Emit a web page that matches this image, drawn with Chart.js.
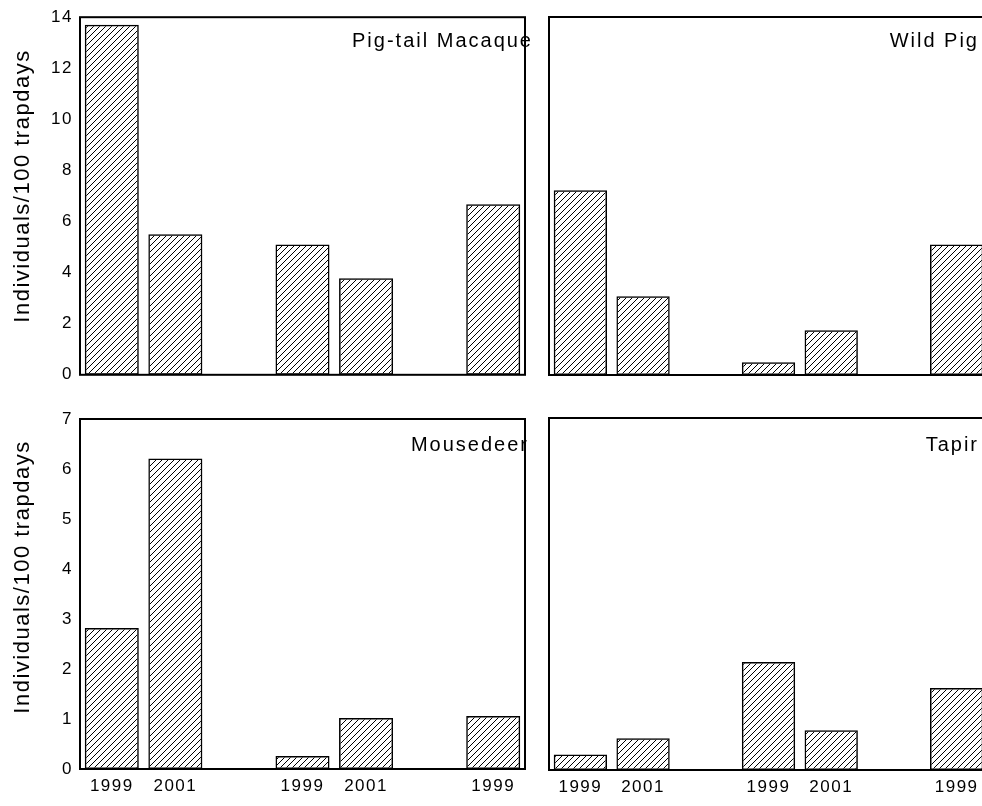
<!DOCTYPE html>
<html>
<head>
<meta charset="utf-8">
<script src="https://cdn.jsdelivr.net/npm/chart.js@4"></script>
<style>
  html, body { margin: 0; padding: 0; background: #fff; overflow: hidden; }
  body { width: 982px; height: 806px; position: relative; }
  canvas { position: absolute; }
  .name { position: absolute; font: 20px "Liberation Sans", Arial, sans-serif; letter-spacing: 2px;
          line-height: 20px; white-space: nowrap; color: #000; text-align: right; }
</style>
</head>
<body>
<canvas id="macaque" width="535" height="392" style="left:0;top:0"></canvas>
<canvas id="wildpig" width="458" height="389" style="left:540px;top:0"></canvas>
<canvas id="mousedeer" width="535" height="406" style="left:0;top:400px"></canvas>
<canvas id="tapir" width="458" height="406" style="left:540px;top:400px"></canvas>

<div class="name" style="right:449px;top:30px">Pig-tail Macaque</div>
<div class="name" style="right:3px;top:30px">Wild Pig</div>
<div class="name" style="right:453px;top:434px">Mousedeer</div>
<div class="name" style="right:3px;top:434px">Tapir</div>

<script>
// categories (empty slots are the gaps between sites)
var years = ['1999', '2001', '', '1999', '2001', '', '1999'];

// individuals / 100 trapdays
var macaque   = [13.7, 5.5, null, 5.1, 3.78, null, 6.68];
var wildPig   = [7.22, 3.08, null, 0.5, 1.75, null, 5.1];
var mousedeer = [2.82, 6.21, null, 0.26, 1.02, null, 1.06];
var tapir     = [0.31, 0.63, null, 2.15, 0.79, null, 1.63];

var topMax = 14, topStep = 2;
var bottomMax = 7, bottomStep = 1;

var yTitle = 'Individuals/100 trapdays';
var fontName = '"Liberation Sans", Arial, sans-serif';

// diagonal hatch fill
function hatch() {
  var c = document.createElement('canvas');
  c.width = 6; c.height = 6;
  var g = c.getContext('2d');
  g.strokeStyle = '#000';
  g.lineWidth = 1;
  g.beginPath();
  g.moveTo(0, 6); g.lineTo(6, 0);
  g.moveTo(-1, 1); g.lineTo(1, -1);
  g.moveTo(5, 7); g.lineTo(7, 5);
  g.stroke();
  return g.createPattern(c, 'repeat');
}
var fill = hatch();

// frame around the plot area, y title, and wider letter spacing like the original
var framePlugin = {
  id: 'frame',
  beforeDraw: function(chart) {
    chart.ctx.letterSpacing = '1.5px';
  },
  afterDraw: function(chart, args, o) {
    var a = chart.chartArea, ctx = chart.ctx;
    ctx.save();
    ctx.strokeStyle = '#000';
    ctx.lineWidth = 2;
    ctx.strokeRect(a.left, a.top, a.right - a.left, a.bottom - a.top);
    if (o.titleY) {
      ctx.translate(23, o.titleY);
      ctx.rotate(-Math.PI / 2);
      ctx.fillStyle = '#000';
      ctx.font = '22px ' + fontName;
      ctx.textAlign = 'center';
      ctx.textBaseline = 'middle';
      ctx.fillText(yTitle, 0, 0);
    }
    ctx.restore();
  }
};

function makeChart(id, values, opts) {
  var ctx = document.getElementById(id).getContext('2d');
  return new Chart(ctx, {
    type: 'bar',
    data: {
      labels: years,
      datasets: [{
        data: values,
        backgroundColor: fill,
        borderColor: '#000',
        borderWidth: 1.5,
        borderSkipped: false,
        categoryPercentage: 0.85,
        barPercentage: 1
      }]
    },
    options: {
      responsive: false,
      animation: false,
      layout: { padding: opts.padding },
      scales: {
        x: {
          display: opts.showX,
          grid: { display: false, drawTicks: false },
          border: { display: false },
          ticks: { color: '#000', font: { family: fontName, size: 17 }, padding: 7, maxRotation: 0, autoSkip: false },
          afterFit: function(s) { if (opts.showX) s.height = 36; }
        },
        y: {
          display: opts.showY,
          min: 0,
          max: opts.max,
          grid: { display: false, drawTicks: false },
          border: { display: false },
          ticks: { stepSize: opts.step, color: '#000', font: { family: fontName, size: 17 }, padding: 7 },
          afterFit: function(s) { if (opts.showY) s.width = 80; }
        }
      },
      plugins: {
        legend: { display: false },
        tooltip: { enabled: false },
        frame: { titleY: opts.titleY }
      }
    },
    plugins: [framePlugin]
  });
}

makeChart('macaque', macaque, { showX: false, showY: true, max: topMax, step: topStep, titleY: 186,
  padding: { top: 15, right: 10, bottom: 14, left: 0 } });
makeChart('wildpig', wildPig, { showX: false, showY: false, max: topMax, step: topStep,
  padding: { top: 17, right: 10, bottom: 14, left: 9 } });
makeChart('mousedeer', mousedeer, { showX: true, showY: true, max: bottomMax, step: bottomStep, titleY: 177,
  padding: { top: 19, right: 10, bottom: 1, left: 0 } });
makeChart('tapir', tapir, { showX: true, showY: false, max: bottomMax, step: bottomStep,
  padding: { top: 18, right: 10, bottom: 0, left: 9 } });
</script>
</body>
</html>
